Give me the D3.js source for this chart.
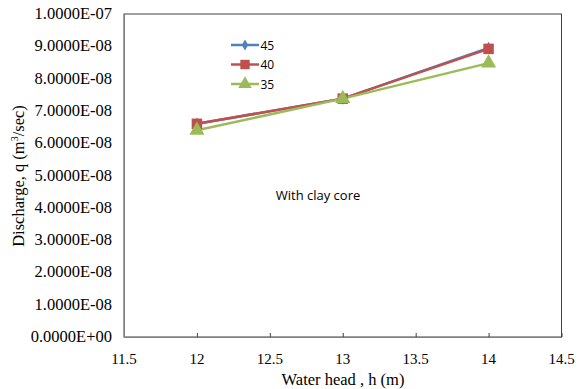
<!DOCTYPE html>
<html><head><meta charset="utf-8">
<script src="https://cdn.jsdelivr.net/npm/d3@7"></script>
<style>body{margin:0;background:#fff}svg{display:block}</style>
</head><body>
<svg id="c" width="579" height="389"></svg>
<script>
const heads = [12, 13, 14];
const s45 = [6.6e-8, 7.38e-8, 8.95e-8];
const s40 = [6.6e-8, 7.38e-8, 8.92e-8];
const s35 = [6.4e-8, 7.38e-8, 8.48e-8];
const seriesNames = ["45", "40", "35"];
const xTicks = [11.5, 12, 12.5, 13, 13.5, 14, 14.5];
const yTicks = d3.range(0, 11).map(i => i * 1e-8);

const series = [
  {name: seriesNames[0], values: s45, color: "#4F81BD", shape: "diamond"},
  {name: seriesNames[1], values: s40, color: "#C0504D", shape: "square"},
  {name: seriesNames[2], values: s35, color: "#9BBB59", shape: "triangle"}
];

const svg = d3.select("#c");
const L = 124, R = 561.5, T = 14, B = 337;
const x = d3.scaleLinear().domain([11.5, 14.5]).range([L, R]);
const y = d3.scaleLinear().domain([0, 1e-7]).range([B, T]);

svg.append("rect").attr("x", L).attr("y", T).attr("width", R - L).attr("height", B - T)
  .attr("fill", "none").attr("stroke", "#404040").attr("stroke-width", 1);

const xa = svg.append("g").attr("transform", `translate(0,${B})`)
  .call(d3.axisBottom(x).tickValues(xTicks).tickSizeInner(-4).tickSizeOuter(0).tickFormat(""));
xa.select(".domain").attr("stroke", "#808080");
xa.selectAll(".tick line").attr("stroke", "#404040");

const ya = svg.append("g").attr("transform", `translate(${L},0)`)
  .call(d3.axisLeft(y).tickValues(yTicks).tickSize(0).tickFormat(""));
ya.select(".domain").attr("stroke", "#808080");

const fmtY = d => {
  const e = d3.format(".4e")(d);
  let [m, ex] = e.split("e");
  let sign = ex[0] === "-" ? "-" : "+";
  return m + "E" + sign + String(Math.abs(+ex)).padStart(2, "0");
};

const serif = "Liberation Serif";
svg.append("g").selectAll("text").data(xTicks).enter().append("text")
  .attr("x", d => x(d)).attr("y", B + 27).attr("text-anchor", "middle")
  .attr("font-family", serif).attr("font-size", 15)
  .text(d => String(d));
svg.append("g").selectAll("text").data(yTicks).enter().append("text")
  .attr("x", L - 12).attr("y", d => y(d) + 5).attr("text-anchor", "end")
  .attr("font-family", serif).attr("font-size", 16.5)
  .text(fmtY);

svg.append("text").attr("x", 343).attr("y", 385).attr("text-anchor", "middle")
  .attr("font-family", serif).attr("font-size", 16.5).text("Water head , h (m)");
const yt = svg.append("text").attr("transform", `translate(24,176) rotate(-90)`)
  .attr("text-anchor", "middle").attr("font-family", serif).attr("font-size", 16.5);
yt.append("tspan").text("Discharge, q (m");
yt.append("tspan").attr("font-size", 10).attr("dy", -6).text("3");
yt.append("tspan").attr("dy", 6).text("/sec)");

const line = d3.line().x((d, i) => x(heads[i])).y(d => y(d));
const symType = {diamond: d3.symbolDiamond, square: d3.symbolSquare, triangle: d3.symbolTriangle};
const symSize = {diamond: 45, square: 110, triangle: 100};

series.forEach(s => {
  svg.append("path").datum(s.values).attr("d", line).attr("fill", "none")
    .attr("stroke", s.color).attr("stroke-width", 2.5);
});
series.forEach(s => {
  svg.selectAll(null).data(s.values).enter().append("path")
    .attr("transform", (d, i) => `translate(${x(heads[i])},${y(d)})`)
    .attr("d", d3.symbol().type(symType[s.shape]).size(symSize[s.shape]))
    .attr("fill", s.color);
});

const lg = svg.append("g");
series.forEach((s, i) => {
  const ly = 45 + i * 19.5;
  lg.append("line").attr("x1", 231).attr("x2", 259).attr("y1", ly).attr("y2", ly)
    .attr("stroke", s.color).attr("stroke-width", 2.5);
  lg.append("path").attr("transform", `translate(245,${ly})`)
    .attr("d", d3.symbol().type(symType[s.shape]).size(symSize[s.shape] * 0.8)).attr("fill", s.color);
  lg.append("text").attr("x", 260.5).attr("y", ly + 4.5).attr("font-family", "Open Sans")
    .attr("font-size", 12).text(s.name);
});

svg.append("text").attr("x", 318).attr("y", 200).attr("text-anchor", "middle")
  .attr("font-family", "Open Sans").attr("font-size", 13).text("With clay core");
</script>
</body></html>
